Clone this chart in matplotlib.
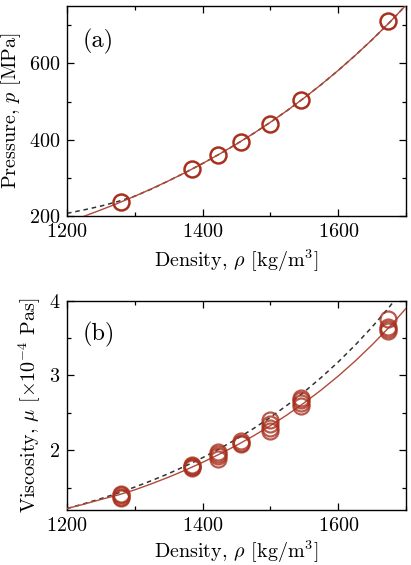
import matplotlib
matplotlib.use("Agg")
import matplotlib.pyplot as plt
from matplotlib.ticker import MultipleLocator

plt.rcParams['font.family'] = 'serif'
plt.rcParams['font.serif'] = ['cmr10']
plt.rcParams['mathtext.fontset'] = 'cm'
plt.rcParams['axes.unicode_minus'] = False
plt.rcParams['axes.formatter.use_mathtext'] = True

# ---- data ----
density = [1280, 1385, 1423, 1457, 1500, 1545, 1673]
pressure = [237, 322, 359, 394, 442, 505, 712]

# viscosity measurements (several per density), x1e-4 Pa s
viscosity = [
    [1.36, 1.38, 1.40, 1.41],
    [1.76, 1.78, 1.79, 1.80],
    [1.88, 1.92, 1.95, 1.97],
    [2.08, 2.10, 2.12],
    [2.25, 2.30, 2.35, 2.40],
    [2.59, 2.63, 2.67, 2.70],
    [3.59, 3.62, 3.65, 3.75],
]

# fitted curves
curve_rho_a = [1225, 1250, 1275, 1300, 1325, 1350, 1375, 1400, 1425, 1450,
               1475, 1500, 1525, 1550, 1575, 1600, 1625, 1650, 1675, 1700]
curve_p_red = [199.3, 215.9, 233.4, 251.9, 271.6, 292.4, 314.4, 337.7, 362.5, 388.7,
               416.4, 445.8, 476.9, 509.9, 544.8, 581.8, 621.0, 662.4, 706.3, 752.9]
dash_rho_a = [1200, 1225, 1250, 1275, 1300, 1325, 1350, 1375, 1400, 1425, 1450,
              1475, 1500, 1525, 1550, 1575, 1600, 1625, 1650, 1675, 1700]
dash_p = [207, 216, 226, 238, 252, 271, 292.4, 314.4, 337.7, 362.5, 388.7,
          416.4, 445.8, 476.9, 509.9, 544.8, 581.8, 621.0, 662.4, 706.3, 752.9]

curve_rho_b = [1200, 1225, 1250, 1275, 1300, 1325, 1350, 1375, 1400, 1425, 1450,
               1475, 1500, 1525, 1550, 1575, 1600, 1625, 1650, 1675, 1700]
curve_mu_red = [1.220, 1.278, 1.341, 1.400, 1.470, 1.552, 1.640, 1.735, 1.838, 1.948, 2.065,
                2.191, 2.328, 2.475, 2.634, 2.806, 2.991, 3.192, 3.409, 3.643, 3.896]
dash_mu = [1.220, 1.284, 1.352, 1.426, 1.507, 1.594, 1.688, 1.790, 1.900, 2.020, 2.149,
           2.289, 2.440, 2.604, 2.781, 2.973, 3.180, 3.405, 3.648, 3.911, 4.196]

RED = '#A8301E'
LINE_RED = '#B04A3A'
FS = 14.5

fig = plt.figure(figsize=(4.11, 5.65), dpi=100)
ax1 = fig.add_axes([0.163, 0.6177, 0.825, 0.3713])
ax2 = fig.add_axes([0.163, 0.0973, 0.825, 0.3707])

for ax, lp in ((ax1, 5), (ax2, 2.5)):
    ax.tick_params(which='both', direction='in', top=True, right=True,
                   labelsize=FS, width=0.9, pad=5)
    ax.tick_params(which='major', length=5)
    ax.tick_params(which='minor', length=3)
    for s in ax.spines.values():
        s.set_linewidth(1.0)
    ax.set_xlim(1200, 1700)
    ax.xaxis.set_major_locator(MultipleLocator(200))
    ax.xaxis.set_minor_locator(MultipleLocator(100))
    ax.set_xlabel(r'Density, $\rho$ [kg/m$^3$]', fontsize=FS, labelpad=lp)

# panel (a)
ax1.plot(dash_rho_a, dash_p, '--', color='#333333', lw=1.1, dashes=(3, 2.5), zorder=2)
ax1.plot(curve_rho_a, curve_p_red, '-', color=LINE_RED, lw=1.0, zorder=3)
ax1.plot(density, pressure, 'o', ms=11.5, mfc='none', mec=RED, mew=1.8, zorder=4)
ax1.set_ylim(200, 750)
ax1.yaxis.set_major_locator(MultipleLocator(200))
ax1.yaxis.set_minor_locator(MultipleLocator(100))
ax1.set_ylabel(r'Pressure, $p$ [MPa]', fontsize=FS, labelpad=4)
ax1.text(0.047, 0.83, '(a)', transform=ax1.transAxes, fontsize=17.5, va='center')

# panel (b)
ax2.plot(curve_rho_b, dash_mu, '--', color='#333333', lw=1.1, dashes=(3, 2.5), zorder=2)
ax2.plot(curve_rho_b, curve_mu_red, '-', color=LINE_RED, lw=1.0, zorder=3)
for rho, vals in zip(density, viscosity):
    ax2.plot([rho] * len(vals), vals, 'o', ms=11.5, mfc='none', mec=RED,
             mew=1.6, alpha=0.8, zorder=4)
ax2.set_ylim(1.2, 4.0)
ax2.yaxis.set_major_locator(MultipleLocator(1))
ax2.yaxis.set_minor_locator(MultipleLocator(0.5))
ax2.set_ylabel(r'Viscosity, $\mu$ [$\times 10^{-4}$ Pas]', fontsize=FS, labelpad=4)
ax2.text(0.047, 0.836, '(b)', transform=ax2.transAxes, fontsize=17.5, va='center')

fig.savefig('out.png', dpi=100)
